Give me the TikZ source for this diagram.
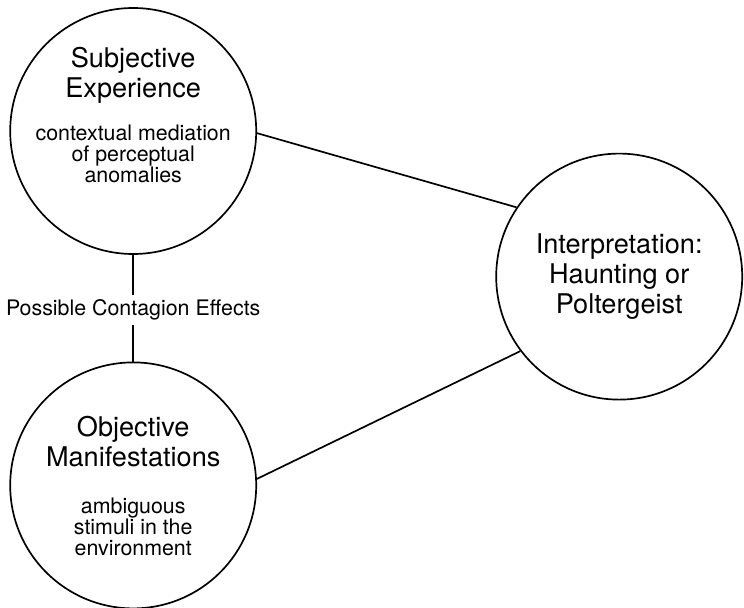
\documentclass[tikz,border=0pt]{standalone}
\usepackage{fontspec}
\setmainfont{TeX Gyre Heros}

\begin{document}
\begin{tikzpicture}[line width=1.2pt,
	blob/.style={draw, circle, minimum size=6.15cm, inner sep=0pt, align=center},
	head/.style={align=center, font=\fontsize{19.3}{21.5}\selectfont},
	body/.style={align=center, font=\fontsize{15.2}{14.7}\selectfont}]

	\useasboundingbox (0, 0) rectangle (18.6, 15.175);

	\node[blob] (subj) at (3.33, 11.9) {}; % Subjective
	\node[blob] (obj) at (3.33, 3.04) {}; % Objective
	\node[blob, head] (interp) at (15.48, 8.26) {Interpretation:\\Haunting or\\Poltergeist};

	\node[head] (subjhead) at (3.33, 13.3) {Subjective\\Experience};
	\node[body] (subjbody) at (3.33, 11.33) {contextual mediation\\of perceptual\\anomalies};

	\node[head] (objhead) at (3.33, 4.14) {Objective\\Manifestations};
	\node[body] (objbody) at (3.33, 2.0) {ambiguous\\stimuli in the\\environment};

	\node[body, inner sep=3pt] (contag) at (3.33, 7.425) {Possible Contagion Effects};

	\draw (subj) -- (contag);
	\draw (contag) -- (obj);
	\draw (subj.-1) -- (interp.146);
	\draw (obj.3) -- (interp.-143);

\end{tikzpicture}
\end{document}
